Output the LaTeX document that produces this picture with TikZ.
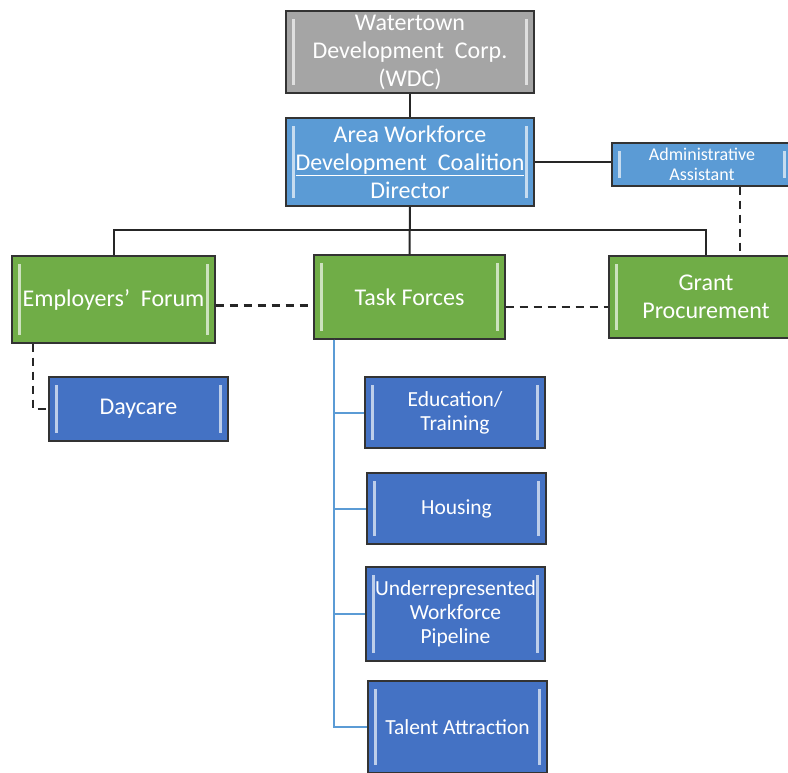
\documentclass[tikz,border=0pt]{standalone}
\usepackage{fontspec}
\setmainfont{Carlito}
\definecolor{wdcgray}{HTML}{A5A5A5}
\definecolor{leadblue}{HTML}{5B9BD5}
\definecolor{groupgreen}{HTML}{70AD47}
\definecolor{teamblue}{HTML}{4472C4}
\newcommand{\bigtext}{\fontsize{24}{28}\selectfont}
\newcommand{\smalltext}{\fontsize{21.5}{24}\selectfont}
\newcommand{\tinytext}{\fontsize{18}{19.5}\selectfont}

\begin{document}
\begin{tikzpicture}[x=1pt,y=-1pt,
    box/.style={draw=black!80, line width=1.4pt, fill=#1, text=white, align=center, inner sep=0pt,
      font=\bigtext,
      path picture={
        \fill[#1!35!white] ([xshift=6pt,yshift=-8pt]path picture bounding box.north west)
          rectangle ([xshift=9pt,yshift=8pt]path picture bounding box.south west);
        \fill[#1!35!white] ([xshift=-6pt,yshift=-8pt]path picture bounding box.north east)
          rectangle ([xshift=-9pt,yshift=8pt]path picture bounding box.south east);}},
    link/.style={line width=2pt, black!85},
    dashlink/.style={line width=2.2pt, black!85, dash pattern=on 8pt off 6pt},
    branch/.style={line width=2pt, leadblue}]
  \useasboundingbox (0,0) rectangle (788,772);

  % top of the chart
  \node (wdc) at (410,52) [box=wdcgray, minimum width=248pt, minimum height=82pt]
    {Watertown\\ Development\ \ Corp.\\ (WDC)};
  \node (dir) at (410,162) [box=leadblue, minimum width=248pt, minimum height=88pt]
    {Area Workforce\\ \underline{Development\ \ Coalition}\\ Director};
  \node (admin) at (702,164.5) [box=leadblue, minimum width=180pt, minimum height=43pt, font=\tinytext]
    {Administrative\\ Assistant};

  % middle row
  \node (emp) at (113.5,299.5) [box=groupgreen, minimum width=203pt, minimum height=87pt]
    {Employers'\ \ Forum};
  \node (task) at (409.5,297) [box=groupgreen, minimum width=191pt, minimum height=84pt]
    {Task Forces};
  \node (grant) at (706,297) [box=groupgreen, minimum width=194pt, minimum height=82pt]
    {Grant\\ Procurement};

  % lower boxes
  \node (daycare) at (138.5,409) [box=teamblue, minimum width=179pt, minimum height=64pt]
    {Daycare};
  \node (edu) at (455,412.5) [box=teamblue, minimum width=180pt, minimum height=71pt, font=\smalltext]
    {Education/\\ Training};
  \node (housing) at (456.5,508.5) [box=teamblue, minimum width=179pt, minimum height=71pt, font=\smalltext]
    {Housing};
  \node (under) at (455.5,614) [box=teamblue, minimum width=179pt, minimum height=94pt, font=\smalltext]
    {Underrepresented\\ Workforce\\ Pipeline};
  \node (talent) at (457.5,727) [box=teamblue, minimum width=179pt, minimum height=92pt, font=\smalltext]
    {Talent Attraction};

  \coordinate (bus) at (410,230);
  \coordinate (trunk) at ([xshift=-75.5pt]task.south);

  \draw[link] (wdc) -- (dir);
  \draw[link] (dir.east) -- (dir.east -| admin.west);
  \draw[link] (dir) -- (task);
  \draw[link] (emp.north) |- (bus) -| (grant.north);
  \draw[dashlink] ([yshift=-6pt]emp.east) -- ([yshift=-6pt]emp.east -| task.west);
  \draw[dashlink] ([yshift=-10pt]task.east) -- ([yshift=-10pt]task.east -| grant.west);
  \draw[dashlink] ([xshift=38pt]admin.south) -- ([xshift=38pt]admin.south |- grant.north);
  \draw[dashlink] ([xshift=-80.5pt]emp.south) |- (daycare.west);
  \draw[branch] (trunk) |- (edu.west);
  \draw[branch] (trunk) |- (housing.west);
  \draw[branch] (trunk) |- (under.west);
  \draw[branch] (trunk) |- (talent.west);
\end{tikzpicture}
\end{document}
